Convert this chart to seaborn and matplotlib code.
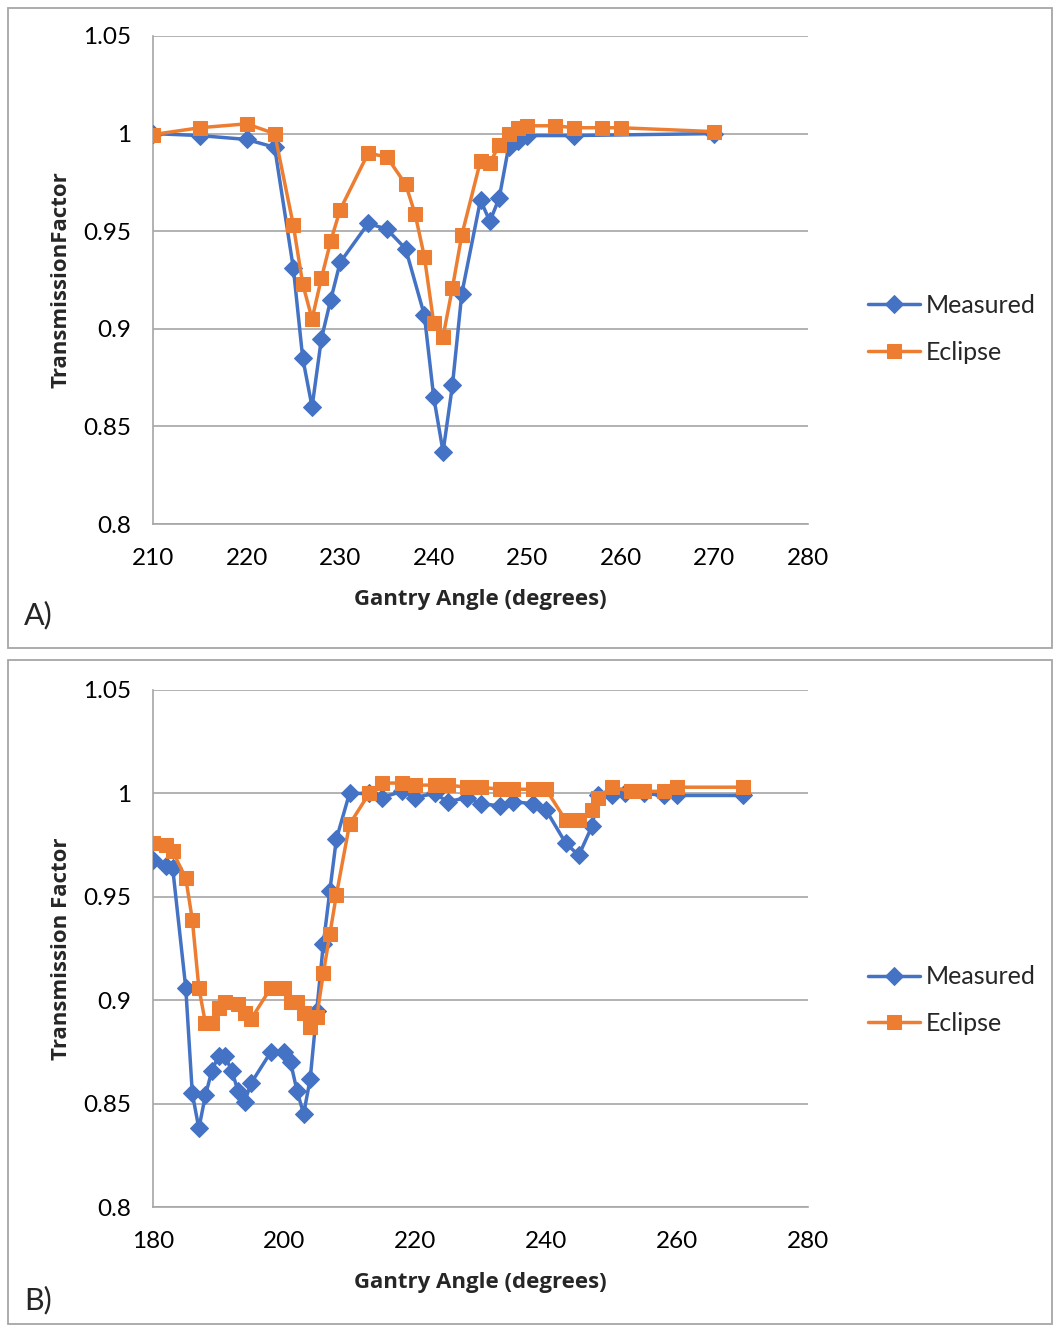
import matplotlib
matplotlib.use("Agg")
import matplotlib.pyplot as plt
import seaborn as sns
import pandas as pd
from matplotlib.patches import Rectangle

# ---- Panel A data ----
a_meas_angle = [210, 215, 220, 223, 225, 226, 227, 228, 229, 230, 233, 235, 237, 239,
                240, 241, 242, 243, 245, 246, 247, 248, 249, 250, 255, 270]
a_meas_tf = [1.000, 0.999, 0.997, 0.993, 0.931, 0.885, 0.860, 0.895, 0.915, 0.934,
             0.954, 0.951, 0.941, 0.907, 0.865, 0.837, 0.871, 0.918, 0.966, 0.955,
             0.967, 0.993, 0.996, 0.999, 0.999, 1.000]
a_ecl_angle = [210, 215, 220, 223, 225, 226, 227, 228, 229, 230, 233, 235, 237, 238,
               239, 240, 241, 242, 243, 245, 246, 247, 248, 249, 250, 253, 255, 258,
               260, 270]
a_ecl_tf = [0.9995, 1.003, 1.005, 1.000, 0.953, 0.923, 0.905, 0.926, 0.945, 0.961,
            0.990, 0.988, 0.974, 0.959, 0.937, 0.903, 0.896, 0.921, 0.948, 0.986,
            0.985, 0.994, 1.000, 1.003, 1.004, 1.004, 1.003, 1.003, 1.003, 1.001]

# ---- Panel B data ----
b_meas_angle = [180, 182, 183, 185, 186, 187, 188, 189, 190, 191, 192, 193, 194, 195,
                198, 200, 201, 202, 203, 204, 205, 206, 207, 208, 210, 213, 215, 218,
                220, 223, 225, 228, 230, 233, 235, 238, 240, 243, 245, 247, 248, 250,
                252, 255, 258, 260, 270]
b_meas_tf = [0.968, 0.965, 0.964, 0.906, 0.855, 0.838, 0.854, 0.866, 0.873, 0.873,
             0.866, 0.856, 0.851, 0.860, 0.875, 0.875, 0.870, 0.856, 0.845, 0.862,
             0.895, 0.927, 0.953, 0.978, 1.000, 1.000, 0.998, 1.001, 0.998, 1.000,
             0.996, 0.998, 0.995, 0.994, 0.996, 0.995, 0.992, 0.976, 0.970, 0.984,
             0.999, 0.999, 1.000, 1.000, 0.999, 0.999, 0.999]
b_ecl_angle = [180, 182, 183, 185, 186, 187, 188, 189, 190, 191, 193, 194, 195, 198,
               200, 201, 202, 203, 204, 205, 206, 207, 208, 210, 213, 215, 218, 220,
               223, 225, 228, 230, 233, 235, 238, 240, 243, 245, 247, 248, 250, 253,
               255, 258, 260, 270]
b_ecl_tf = [0.976, 0.975, 0.972, 0.959, 0.939, 0.906, 0.889, 0.889, 0.896, 0.899,
            0.898, 0.894, 0.891, 0.906, 0.906, 0.899, 0.899, 0.894, 0.887, 0.892,
            0.913, 0.932, 0.951, 0.985, 1.000, 1.005, 1.005, 1.004, 1.004, 1.004,
            1.003, 1.003, 1.002, 1.002, 1.002, 1.002, 0.987, 0.987, 0.992, 0.998,
            1.003, 1.001, 1.001, 1.001, 1.003, 1.003]

y_ticks = [0.8, 0.85, 0.9, 0.95, 1.0, 1.05]
y_ticklabels = ["0.8", "0.85", "0.9", "0.95", "1", "1.05"]
a_xticks = [210, 220, 230, 240, 250, 260, 270, 280]
b_xticks = [180, 200, 220, 240, 260, 280]

BLUE = "#4472C4"
ORANGE = "#ED7D31"
GRID = "#A6A6A6"

sns.set_style("white")
plt.rcParams["font.family"] = ["Lato", "DejaVu Sans"]
BOLD_FAMILY = ["Open Sans", "DejaVu Sans"]

W, H = 1053, 1325
fig = plt.figure(figsize=(W / 100, H / 100), dpi=100)


def px_axes(left, top, right, bottom):
    return fig.add_axes([left / W, 1 - bottom / H, (right - left) / W, (bottom - top) / H])


def series_frame(angle, tf, name):
    return pd.DataFrame({"angle": angle, "tf": tf, "series": name})


def draw_panel(ax, m_ang, m_tf, e_ang, e_tf, xticks, ylabel):
    dm = series_frame(m_ang, m_tf, "Measured")
    de = series_frame(e_ang, e_tf, "Eclipse")
    sns.lineplot(data=dm, x="angle", y="tf", ax=ax, color=BLUE, lw=2.5,
                 marker="D", markersize=9, markeredgecolor=BLUE, sort=False,
                 label="Measured", zorder=3)
    sns.lineplot(data=de, x="angle", y="tf", ax=ax, color=ORANGE, lw=2.5,
                 marker="s", markersize=10, markeredgecolor=ORANGE, sort=False,
                 label="Eclipse", zorder=4)
    ax.set_xlim(xticks[0], xticks[-1])
    ax.set_ylim(0.8, 1.05)
    ax.set_xticks(xticks)
    ax.set_xticklabels([str(t) for t in xticks])
    ax.set_yticks(y_ticks)
    ax.set_yticklabels(y_ticklabels)
    ax.grid(axis="y", color=GRID, lw=1.2)
    ax.grid(axis="x", visible=False)
    for s in ["top", "right"]:
        ax.spines[s].set_visible(False)
    for s in ["left", "bottom"]:
        ax.spines[s].set_color(GRID)
        ax.spines[s].set_linewidth(1.2)
    ax.tick_params(axis="both", direction="out", length=7, width=1.2, color=GRID,
                   labelsize=17.5, labelcolor="#000000", pad=9)
    ax.tick_params(axis="x", pad=10)
    ax.set_xlabel("Gantry Angle (degrees)", fontsize=16, fontweight="bold",
                  family=BOLD_FAMILY, labelpad=15)
    ax.set_ylabel(ylabel, fontsize=16, fontweight="bold", family=BOLD_FAMILY,
                  labelpad=8)
    leg = ax.legend(loc="center left", bbox_to_anchor=(1.057, 0.4), frameon=False,
                    fontsize=18, handlelength=2.1, handletextpad=0.2, labelspacing=0.95)
    return leg


axA = px_axes(153, 36, 808, 524)
draw_panel(axA, a_meas_angle, a_meas_tf, a_ecl_angle, a_ecl_tf, a_xticks,
           "TransmissionFactor")

axB = px_axes(153, 690, 808, 1207)
draw_panel(axB, b_meas_angle, b_meas_tf, b_ecl_angle, b_ecl_tf, b_xticks,
           "Transmission Factor")

# panel frames
for (x0, y0, x1, y1) in [(8, 8, 1052, 648), (8, 660, 1052, 1324)]:
    fig.patches.append(Rectangle((x0 / W, 1 - y1 / H), (x1 - x0) / W, (y1 - y0) / H,
                                 transform=fig.transFigure, fill=False,
                                 edgecolor="#A6A6A6", lw=1.3))

fig.text(24 / W, 1 - 615 / H, "A)", fontsize=22, va="center", ha="left")
fig.text(24 / W, 1 - 1300 / H, "B)", fontsize=22, va="center", ha="left")

fig.savefig("out.png", dpi=100)
